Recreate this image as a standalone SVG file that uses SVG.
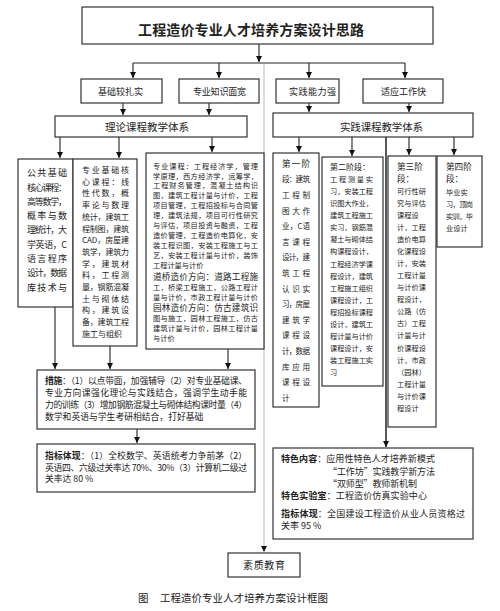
<svg xmlns="http://www.w3.org/2000/svg" width="500" height="611" viewBox="0 0 500 611">
<style>
.box{fill:#fff;stroke:#333;stroke-width:1.2}
.t{font-family:"Noto Sans CJK SC","Noto Sans",sans-serif;fill:#222}
.s7{font-size:7.2px}
.s75{font-size:7.6px}
.s8{font-size:8px}
.s85{font-size:8.6px}
.s9{font-size:9px}
.c{stroke:#222;stroke-width:1.1;fill:none}
.g{stroke:#aaa;stroke-width:0.8;fill:none}
.b{font-weight:700}
</style>
<defs>
<marker id="ah" markerUnits="userSpaceOnUse" markerWidth="7" markerHeight="7" refX="6" refY="3" orient="auto">
<path d="M0,0 L6,3 L0,6 z" fill="#111"/>
</marker>
</defs>
<rect width="500" height="611" fill="#fff"/>

<g id="connectors">
<line class="c" x1="259" y1="44" x2="259" y2="62" marker-end="url(#ah)"/>
<line class="c" x1="133" y1="63" x2="405" y2="63"/>
<line class="g" x1="264" y1="63" x2="264" y2="552" marker-end="url(#ah)"/>
<line class="c" x1="133" y1="63" x2="133" y2="78" marker-end="url(#ah)"/>
<line class="c" x1="219" y1="63" x2="219" y2="78" marker-end="url(#ah)"/>
<line class="c" x1="309" y1="63" x2="309" y2="78" marker-end="url(#ah)"/>
<line class="c" x1="405" y1="63" x2="405" y2="78" marker-end="url(#ah)"/>
<line class="c" x1="123" y1="103" x2="123" y2="115" marker-end="url(#ah)"/>
<line class="c" x1="209" y1="103" x2="209" y2="115" marker-end="url(#ah)"/>
<line class="c" x1="309" y1="103" x2="309" y2="112" marker-end="url(#ah)"/>
<line class="c" x1="409" y1="103" x2="409" y2="112" marker-end="url(#ah)"/>
<line class="c" x1="60" y1="137" x2="60" y2="158" marker-end="url(#ah)"/>
<line class="c" x1="119" y1="137" x2="119" y2="158" marker-end="url(#ah)"/>
<line class="c" x1="212" y1="137" x2="212" y2="152" marker-end="url(#ah)"/>
<line class="c" x1="299" y1="137" x2="299" y2="152" marker-end="url(#ah)"/>
<line class="c" x1="352" y1="137" x2="352" y2="156" marker-end="url(#ah)"/>
<line class="c" x1="409" y1="137" x2="409" y2="155" marker-end="url(#ah)"/>
<line class="c" x1="454" y1="137" x2="454" y2="155" marker-end="url(#ah)"/>
<line stroke="#444" stroke-width="1.8" x1="386" y1="137" x2="386" y2="447" marker-end="url(#ah)"/>
<line class="c" x1="55" y1="307" x2="55" y2="369" marker-end="url(#ah)"/>
<line class="c" x1="110" y1="346" x2="110" y2="369" marker-end="url(#ah)"/>
<line class="c" x1="228" y1="349" x2="228" y2="369" marker-end="url(#ah)"/>
<line class="c" x1="137" y1="429" x2="137" y2="443" marker-end="url(#ah)"/>
</g>

<g id="title">
<rect class="box" x="82" y="7" width="351" height="37" stroke-width="1"/>
<text class="t b" x="251" y="35" font-size="14" text-anchor="middle" textLength="226" lengthAdjust="spacing">工程造价专业人才培养方案设计思路</text>
</g>

<g id="goal1">
<rect class="box" x="81" y="79" width="81" height="24"/>
<text class="t s9" x="98" y="94.5" textLength="45" lengthAdjust="spacing">基础较扎实</text>
</g>
<g id="goal2">
<rect class="box" x="179" y="79" width="80" height="24"/>
<text class="t s9" x="193" y="94.5" textLength="53" lengthAdjust="spacing">专业知识面宽</text>
</g>
<g id="goal3">
<rect class="box" x="276" y="79" width="63" height="24"/>
<text class="t s9" x="289" y="94.5" textLength="47" lengthAdjust="spacing">实践能力强</text>
</g>
<g id="goal4">
<rect class="box" x="363" y="79" width="80" height="24"/>
<text class="t s9" x="381" y="94.5" textLength="45" lengthAdjust="spacing">适应工作快</text>
</g>

<g id="theory">
<rect class="box" x="55" y="116" width="192" height="21"/>
<text class="t" font-size="10.5" x="105" y="131" textLength="84" lengthAdjust="spacing">理论课程教学体系</text>
</g>
<g id="practice">
<rect class="box" x="273" y="113" width="200" height="24"/>
<text class="t" font-size="10.5" x="340" y="130.5" textLength="83" lengthAdjust="spacing">实践课程教学体系</text>
</g>

<g id="public-core">
<rect class="box" x="18" y="159" width="55" height="148"/>
<g class="t s9">
<text x="27" y="176.2" textLength="40" lengthAdjust="spacing">公共基础</text>
<text x="27" y="190.5" textLength="40" lengthAdjust="spacing">核心课程：</text>
<text x="27" y="204.8" textLength="40" lengthAdjust="spacing">高等数学，</text>
<text x="27" y="219.1" textLength="40" lengthAdjust="spacing">概率与数</text>
<text x="27" y="233.4" textLength="40" lengthAdjust="spacing">理统计，大</text>
<text x="27" y="247.7" textLength="40" lengthAdjust="spacing">学英语，C</text>
<text x="27" y="262" textLength="40" lengthAdjust="spacing">语言程序</text>
<text x="27" y="276.3" textLength="40" lengthAdjust="spacing">设计，数据</text>
<text x="27" y="290.6" textLength="40" lengthAdjust="spacing">库技术与</text>
</g>
</g>

<g id="major-core">
<rect class="box" x="73" y="159" width="64" height="187"/>
<g class="t s8">
<text x="82" y="173" textLength="47" lengthAdjust="spacing">专业基础核</text>
<text x="82" y="184.7" textLength="47" lengthAdjust="spacing">心课程：线</text>
<text x="82" y="196.4" textLength="47" lengthAdjust="spacing">性代数，概</text>
<text x="82" y="208.1" textLength="47" lengthAdjust="spacing">率论与数理</text>
<text x="82" y="219.8" textLength="47" lengthAdjust="spacing">统计，建筑工</text>
<text x="82" y="231.5" textLength="47" lengthAdjust="spacing">程制图，建筑</text>
<text x="82" y="243.2" textLength="47" lengthAdjust="spacing">CAD，房屋建</text>
<text x="82" y="254.9" textLength="47" lengthAdjust="spacing">筑学，建筑力</text>
<text x="82" y="266.6" textLength="47" lengthAdjust="spacing">学，建筑材</text>
<text x="82" y="278.3" textLength="47" lengthAdjust="spacing">料，工程测</text>
<text x="82" y="290" textLength="47" lengthAdjust="spacing">量，钢筋混凝</text>
<text x="82" y="301.7" textLength="47" lengthAdjust="spacing">土与砌体结</text>
<text x="82" y="313.4" textLength="47" lengthAdjust="spacing">构，建筑设</text>
<text x="82" y="325.1" textLength="47" lengthAdjust="spacing">备，建筑工程</text>
<text x="82" y="336.8">施工与组织</text>
</g>
</g>

<g id="major-courses">
<rect class="box" x="146" y="153" width="118" height="196"/>
<g class="t s7">
<text x="153" y="168.6" textLength="105" lengthAdjust="spacing">专业课程：工程经济学，管理</text>
<text x="153" y="178.5" textLength="105" lengthAdjust="spacing">学原理，西方经济学，运筹学，</text>
<text x="153" y="188.4" textLength="105" lengthAdjust="spacing">工程财务管理，混凝土结构识</text>
<text x="153" y="198.3" textLength="105" lengthAdjust="spacing">图，建筑工程计量与计价，工程</text>
<text x="153" y="208.2" textLength="105" lengthAdjust="spacing">项目管理，工程招投标与合同管</text>
<text x="153" y="218.1" textLength="105" lengthAdjust="spacing">理，建筑法规，项目可行性研究</text>
<text x="153" y="228" textLength="105" lengthAdjust="spacing">与评估，项目投资与融资，工程</text>
<text x="153" y="237.9" textLength="105" lengthAdjust="spacing">造价管理，工程造价电算化，安</text>
<text x="153" y="247.8" textLength="105" lengthAdjust="spacing">装工程识图，安装工程施工与工</text>
<text x="153" y="257.7" textLength="105" lengthAdjust="spacing">艺，安装工程计量与计价，装饰</text>
<text x="153" y="267.6">工程计量与计价</text>
<text class="s85" x="153" y="279.5" textLength="105" lengthAdjust="spacing">道桥造价方向：道路工程施</text>
<text x="153" y="289.6" textLength="105" lengthAdjust="spacing">工，桥梁工程施工，公路工程计</text>
<text x="153" y="299.6" textLength="105" lengthAdjust="spacing">量与计价，市政工程计量与计价</text>
<text class="s85" x="153" y="310.7" textLength="105" lengthAdjust="spacing">园林造价方向：仿古建筑识</text>
<text x="153" y="320.6" textLength="105" lengthAdjust="spacing">图与施工，园林工程施工，仿古</text>
<text x="153" y="331.1" textLength="105" lengthAdjust="spacing">建筑计量与计价，园林工程计量</text>
<text x="153" y="341.1">与计价</text>
</g>
</g>

<g id="stage1">
<rect class="box" x="273" y="153" width="46" height="254"/>
<g class="t s75">
<text class="s85" x="282" y="167" textLength="28" lengthAdjust="spacing">第一阶</text>
<text x="282" y="182.4" textLength="28" lengthAdjust="spacing">段：建筑</text>
<text x="282" y="198" textLength="28" lengthAdjust="spacing">工程制</text>
<text x="282" y="213.6" textLength="28" lengthAdjust="spacing">图大作</text>
<text x="282" y="229.2" textLength="28" lengthAdjust="spacing">业，C语</text>
<text x="282" y="244.8" textLength="28" lengthAdjust="spacing">言课程</text>
<text x="282" y="260.4" textLength="28" lengthAdjust="spacing">设计，建</text>
<text x="282" y="276" textLength="28" lengthAdjust="spacing">筑工程</text>
<text x="282" y="291.6" textLength="28" lengthAdjust="spacing">认识实</text>
<text x="282" y="307.2" textLength="28" lengthAdjust="spacing">习，房屋</text>
<text x="282" y="322.8" textLength="28" lengthAdjust="spacing">建筑学</text>
<text x="282" y="338.4" textLength="28" lengthAdjust="spacing">课程设</text>
<text x="282" y="354" textLength="28" lengthAdjust="spacing">计，数据</text>
<text x="282" y="369.6" textLength="28" lengthAdjust="spacing">库应用</text>
<text x="282" y="385.2" textLength="28" lengthAdjust="spacing">课程设</text>
<text x="282" y="400.8">计</text>
</g>
</g>

<g id="stage2">
<rect class="box" x="322" y="157" width="61" height="229"/>
<g class="t s7">
<text class="s8" x="330" y="170">第二阶段：</text>
<text x="330" y="181.8" textLength="43" lengthAdjust="spacing">工程测量实</text>
<text x="330" y="193.9" textLength="43" lengthAdjust="spacing">习，安装工程</text>
<text x="330" y="206" textLength="43" lengthAdjust="spacing">识图大作业，</text>
<text x="330" y="218.1" textLength="43" lengthAdjust="spacing">建筑工程施工</text>
<text x="330" y="230.2" textLength="43" lengthAdjust="spacing">实习，钢筋混</text>
<text x="330" y="242.3" textLength="43" lengthAdjust="spacing">凝土与砌体结</text>
<text x="330" y="254.4" textLength="43" lengthAdjust="spacing">构课程设计，</text>
<text x="330" y="266.5" textLength="43" lengthAdjust="spacing">工程经济学课</text>
<text x="330" y="278.6" textLength="43" lengthAdjust="spacing">程设计，建筑</text>
<text x="330" y="290.7" textLength="43" lengthAdjust="spacing">工程施工组织</text>
<text x="330" y="302.8" textLength="43" lengthAdjust="spacing">课程设计，工</text>
<text x="330" y="314.9" textLength="43" lengthAdjust="spacing">程招投标课程</text>
<text x="330" y="327" textLength="43" lengthAdjust="spacing">设计，建筑工</text>
<text x="330" y="339.1" textLength="43" lengthAdjust="spacing">程计量与计价</text>
<text x="330" y="351.2" textLength="43" lengthAdjust="spacing">课程设计，安</text>
<text x="330" y="363.3" textLength="43" lengthAdjust="spacing">装工程施工实</text>
<text x="330" y="375.4">习</text>
</g>
</g>

<g id="stage3">
<rect class="box" x="388" y="156" width="48" height="271"/>
<g class="t s7">
<text class="s85" x="397" y="170">第三阶</text>
<text class="s85" x="397" y="182">段：</text>
<text x="397" y="193.8" textLength="29" lengthAdjust="spacing">可行性研</text>
<text x="397" y="205.9" textLength="29" lengthAdjust="spacing">究与评估</text>
<text x="397" y="217.9">课程设</text>
<text x="397" y="230" textLength="29" lengthAdjust="spacing">计，工程</text>
<text x="397" y="242" textLength="29" lengthAdjust="spacing">造价电算</text>
<text x="397" y="254.1" textLength="29" lengthAdjust="spacing">化课程设</text>
<text x="397" y="266.1" textLength="29" lengthAdjust="spacing">计，安装</text>
<text x="397" y="278.2" textLength="29" lengthAdjust="spacing">工程计量</text>
<text x="397" y="290.2" textLength="29" lengthAdjust="spacing">与计价课</text>
<text x="397" y="302.3" textLength="29" lengthAdjust="spacing">程设计，</text>
<text x="397" y="314.3" textLength="29" lengthAdjust="spacing">公路（仿</text>
<text x="397" y="326.4" textLength="29" lengthAdjust="spacing">古）工程</text>
<text x="397" y="338.4" textLength="29" lengthAdjust="spacing">计量与计</text>
<text x="397" y="350.5" textLength="29" lengthAdjust="spacing">价课程设</text>
<text x="397" y="362.5" textLength="29" lengthAdjust="spacing">计，市政</text>
<text x="397" y="374.6" textLength="29" lengthAdjust="spacing">（园林）</text>
<text x="397" y="386.6" textLength="29" lengthAdjust="spacing">工程计量</text>
<text x="397" y="398.7" textLength="29" lengthAdjust="spacing">与计价课</text>
<text x="397" y="410.7">程设计</text>
</g>
</g>

<g id="stage4">
<rect class="box" x="437" y="156" width="45" height="91"/>
<g class="t s7">
<text class="s85" x="446" y="170">第四阶</text>
<text class="s85" x="446" y="182">段：</text>
<text x="446" y="194.5">毕业实</text>
<text x="446" y="206.5" textLength="27" lengthAdjust="spacing">习，顶岗</text>
<text x="446" y="218.5" textLength="27" lengthAdjust="spacing">实训，毕</text>
<text x="446" y="230.5">业设计</text>
</g>
</g>

<g id="measures">
<rect class="box" x="37" y="370" width="218" height="59"/>
<g class="t" font-size="8.8">
<text x="45" y="384.3" textLength="202" lengthAdjust="spacing"><tspan class="b">措施</tspan>：（1）以点带面，加强辅导（2）对专业基础课、</text>
<text x="45" y="396.3" textLength="202" lengthAdjust="spacing">专业方向课强化理论与实践结合，强调学生动手能</text>
<text x="45" y="408.3" textLength="202" lengthAdjust="spacing">力的训练（3）增加钢筋混凝土与砌体结构课时量（4）</text>
<text x="45" y="420.3">数学和英语与学生考研相结合，打好基础</text>
</g>
</g>

<g id="indicators">
<rect class="box" x="37" y="444" width="218" height="48"/>
<g class="t" font-size="8.8">
<text x="45" y="459" textLength="202" lengthAdjust="spacing"><tspan class="b">指标体现</tspan>：（1）全校数学、英语统考力争前茅（2）</text>
<text x="45" y="470.5" textLength="202" lengthAdjust="spacing">英语四、六级过关率达 70%、30%（3）计算机二级过</text>
<text x="45" y="482">关率达 80 %</text>
</g>
</g>

<g id="features">
<rect class="box" x="273" y="448" width="200" height="91"/>
<g class="t s9">
<text x="281" y="462" textLength="154" lengthAdjust="spacing"><tspan class="b">特色内容</tspan>：应用性特色人才培养新模式</text>
<text x="328" y="475" textLength="107" lengthAdjust="spacing">“工作坊”实践教学新方法</text>
<text x="328" y="487" textLength="89" lengthAdjust="spacing">“双师型”教师新机制</text>
<text x="281" y="499" textLength="146" lengthAdjust="spacing"><tspan class="b">特色实验室</tspan>：工程造价仿真实验中心</text>
<text x="281" y="517" textLength="184" lengthAdjust="spacing"><tspan class="b">指标体现</tspan>：全国建设工程造价从业人员资格过</text>
<text x="281" y="529">关率 95 %</text>
</g>
</g>

<g id="quality">
<rect class="box" x="228" y="553" width="72" height="24"/>
<text class="t" font-size="10" x="243" y="569" textLength="42" lengthAdjust="spacing">素质教育</text>
</g>

<g id="caption">
<text class="t" font-size="10.5" x="138" y="602">图</text>
<text class="t" font-size="10.5" x="160" y="602" textLength="168" lengthAdjust="spacing">工程造价专业人才培养方案设计框图</text>
</g>
</svg>
